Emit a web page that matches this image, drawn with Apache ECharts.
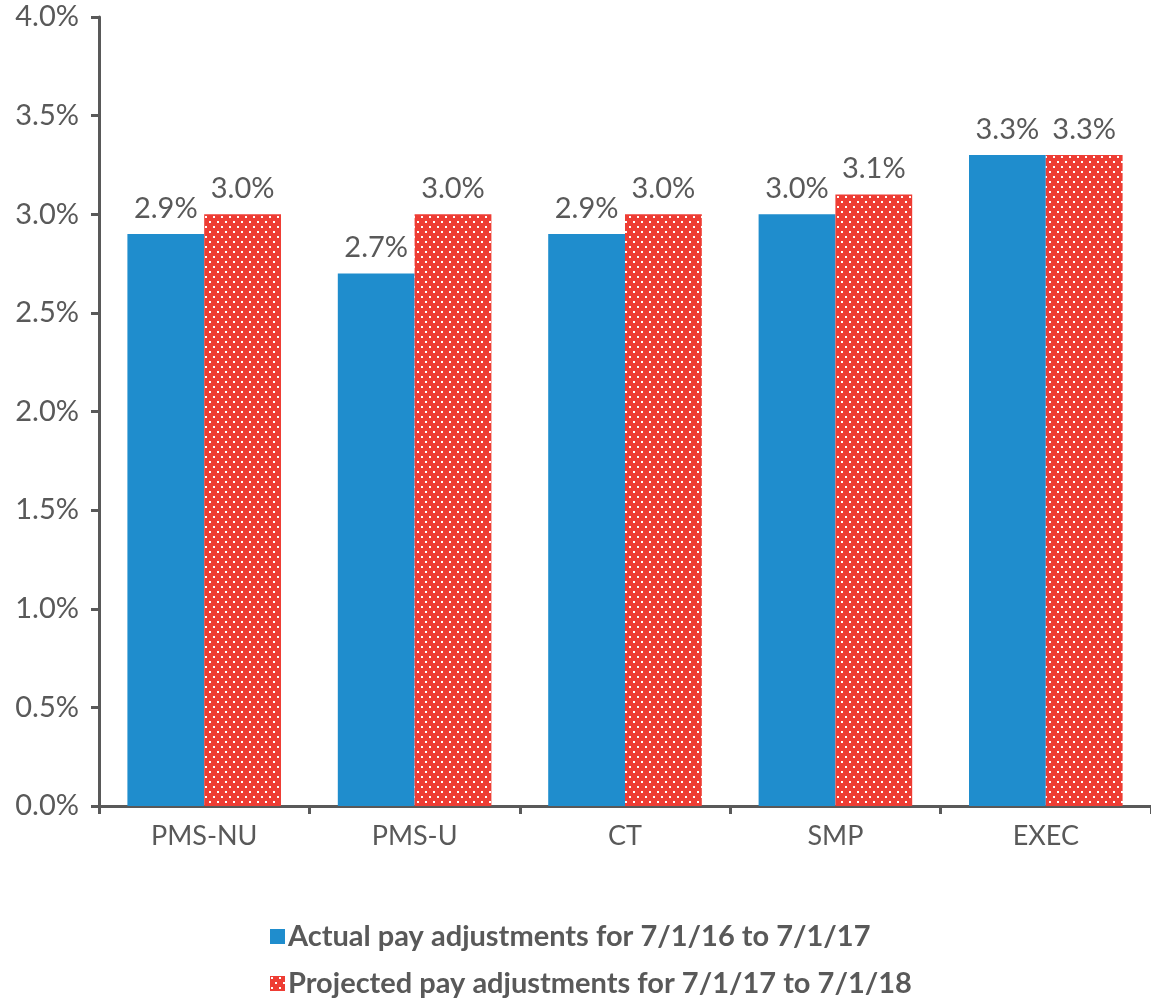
<!DOCTYPE html>
<html><head><meta charset="utf-8">
<script src="https://cdn.jsdelivr.net/npm/echarts@6/dist/echarts.min.js"></script>
<style>html,body{margin:0;padding:0;background:#fff}#c{width:1151px;height:1003px}</style>
</head><body><div id="c"></div>
<script>
const categories = ['PMS-NU','PMS-U','CT','SMP','EXEC'];
const actual = [2.9, 2.7, 2.9, 3.0, 3.3];
const projected = [3.0, 3.0, 3.0, 3.1, 3.3];
const seriesNames = ['Actual pay adjustments for 7/1/16 to 7/1/17','Projected pay adjustments for 7/1/17 to 7/1/18'];

const pc = document.createElement('canvas');
pc.width = 8; pc.height = 10;
const g = pc.getContext('2d');
g.fillStyle = '#EE3D34'; g.fillRect(0,0,8,10);
g.fillStyle = '#ffffff';
g.fillRect(1,1,2,2); g.fillRect(5,6,2,2);

const txt = '#595959';
const font = 'Lato';
const fs = 27, nfs = 29;
const legendBase = {
  orient:'vertical', left:270, padding:0,
  itemWidth:15, itemHeight:15, icon:'rect', itemStyle:{borderWidth:0},
  textStyle:{fontFamily:font, fontSize:29, fontWeight:'bold', color:txt, padding:[0,0,0,-2]}
};
const chart = echarts.init(document.getElementById('c'));
chart.setOption({
  animation:false,
  textStyle:{fontFamily:font},
  grid:{left:99,right:-6,top:17,bottom:197,containLabel:false},
  legend:[
    Object.assign({}, legendBase, {top:922, data:[seriesNames[0]]}),
    Object.assign({}, legendBase, {top:969, data:[seriesNames[1]]})
  ],
  xAxis:{
    type:'category', data:categories,
    axisLine:{lineStyle:{color:txt,width:3}},
    axisTick:{show:true,length:8,lineStyle:{color:txt,width:3}},
    axisLabel:{color:txt,fontSize:fs,margin:17,fontFamily:font}
  },
  yAxis:{
    type:'value', min:0, max:4, interval:0.5,
    splitLine:{show:false},
    axisLine:{show:true,lineStyle:{color:txt,width:3}},
    axisTick:{show:true,length:8,lineStyle:{color:txt,width:3}},
    axisLabel:{color:txt,fontSize:nfs,margin:20,fontFamily:font,formatter:v=>v.toFixed(1)+'%'}
  },
  series:[
    {name:seriesNames[0],type:'bar',data:actual,barGap:'0%',barCategoryGap:'27%',
     itemStyle:{color:'#1F8DCD'},
     label:{show:true,position:'top',distance:11,color:txt,fontSize:nfs,fontFamily:font,formatter:p=>p.value.toFixed(1)+'%'}},
    {name:seriesNames[1],type:'bar',data:projected,barGap:'0%',barCategoryGap:'27%',
     itemStyle:{color:{image:pc,repeat:'repeat'}},
     label:{show:true,position:'top',distance:11,color:txt,fontSize:nfs,fontFamily:font,formatter:p=>p.value.toFixed(1)+'%'}}
  ]
});
</script></body></html>
